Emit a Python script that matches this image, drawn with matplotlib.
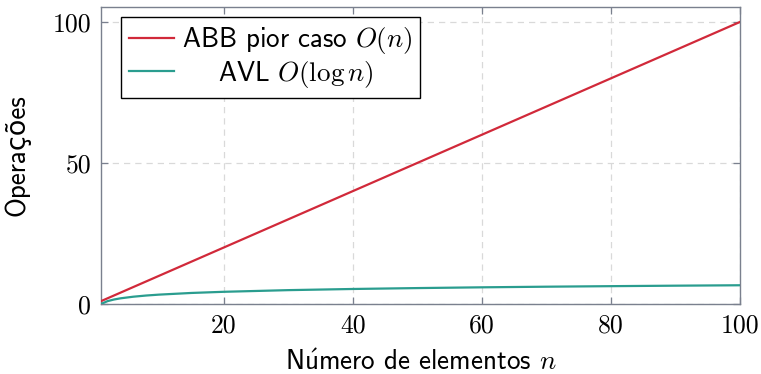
import matplotlib
matplotlib.use("Agg")
import matplotlib.pyplot as plt

# Data
n_lin = [1, 100]
ops_lin = [1, 100]
n_log = [1, 2, 3, 4, 6, 8, 10, 15, 20, 30, 40, 50, 60, 70, 80, 90, 100]
ops_log = [0.0, 1.0, 1.58, 2.0, 2.58, 3.0, 3.32, 3.91, 4.32, 4.91, 5.32, 5.64, 5.91, 6.13, 6.32, 6.49, 6.64]
xticks = [20, 40, 60, 80, 100]
yticks = [0, 50, 100]
labels = ["ABB pior caso $O(n)$", "    AVL $O(\\log n)$"]

plt.rcParams['mathtext.fontset'] = 'cm'
plt.rcParams['font.family'] = ['cmss10', 'DejaVu Sans']
plt.rcParams['axes.unicode_minus'] = False

RED = '#d1293a'
TEAL = '#2a9d8f'
GRAY = '#7a808e'
FS = 19.5

fig = plt.figure(figsize=(7.61, 3.74), dpi=100)
ax = fig.add_axes([0.1327, 0.1872, 0.9724 - 0.1327, 0.9813 - 0.1872])

ax.plot(n_lin, ops_lin, color=RED, lw=1.6, label=labels[0], zorder=3)
ax.plot(n_log, ops_log, color=TEAL, lw=1.6, label=labels[1], zorder=3)

ax.set_xlim(1, 100)
ax.set_ylim(0, 105.3)
ax.set_xticks(xticks)
ax.set_yticks(yticks)
ax.grid(True, color='#d9d9d9', ls=(0, (5, 4)), lw=0.9)
for s in ax.spines.values():
    s.set_color(GRAY)
    s.set_linewidth(1.0)
ax.tick_params(axis='both', direction='in', color=GRAY, length=5, width=0.9,
               top=True, right=True, labelsize=18.5, pad=7)
for t in ax.get_xticklabels() + ax.get_yticklabels():
    t.set_fontfamily('cmr10')

ax.set_xlabel('N$\\acute{\\mathsf{u}}$mero de elementos $n$', fontsize=FS, labelpad=9)
ax.set_ylabel('Operações', fontsize=FS, labelpad=16)

leg = ax.legend(loc='upper left', bbox_to_anchor=(0.031, 0.966), fontsize=FS,
                frameon=True, fancybox=False, edgecolor='black', framealpha=1,
                handlelength=1.67, borderpad=0.3, labelspacing=0.1,
                handletextpad=0.28, borderaxespad=0)
leg.get_frame().set_linewidth(1.0)

fig.savefig('out.png', dpi=100)
